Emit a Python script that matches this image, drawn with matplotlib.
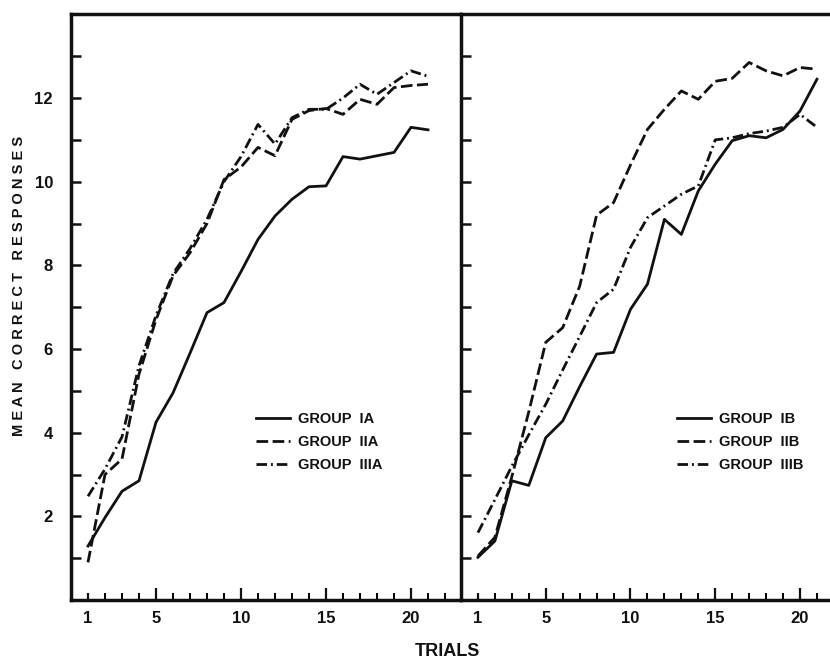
import matplotlib
matplotlib.use("Agg")
import matplotlib.pyplot as plt
from matplotlib.ticker import FixedLocator, NullFormatter

plt.rcParams['font.family'] = ['Liberation Sans', 'DejaVu Sans']
plt.rcParams['font.weight'] = 'bold'

trials = list(range(1, 22))

group_IA = [1.29, 1.97, 2.6, 2.85, 4.25, 4.95, 5.9, 6.87, 7.11, 7.85, 8.62,
            9.18, 9.58, 9.88, 9.9, 10.6, 10.54, 10.62, 10.7, 11.3, 11.24]
group_IIA = [0.9, 3.0, 3.37, 5.4, 6.7, 7.75, 8.3, 9.0, 10.05, 10.35, 10.82,
             10.62, 11.49, 11.7, 11.75, 11.61, 11.97, 11.85, 12.25, 12.3, 12.33]
group_IIIA = [2.48, 3.13, 3.9, 5.6, 6.8, 7.8, 8.4, 9.1, 10.0, 10.6, 11.37,
              10.9, 11.53, 11.73, 11.73, 12.0, 12.33, 12.09, 12.37, 12.65, 12.52]

group_IB = [1.02, 1.41, 2.85, 2.74, 3.88, 4.28, 5.1, 5.88, 5.92, 6.95, 7.55,
            9.1, 8.74, 9.78, 10.42, 10.98, 11.1, 11.05, 11.25, 11.69, 12.45]
group_IIB = [1.05, 1.5, 2.95, 4.5, 6.16, 6.51, 7.5, 9.2, 9.5, 10.4, 11.25,
             11.73, 12.17, 11.97, 12.4, 12.47, 12.85, 12.65, 12.53, 12.73, 12.69]
group_IIIB = [1.61, 2.4, 3.2, 3.95, 4.68, 5.5, 6.3, 7.11, 7.43, 8.43, 9.14,
              9.42, 9.7, 9.9, 11.0, 11.05, 11.15, 11.21, 11.3, 11.61, 11.3]

labels_A = ["GROUP  IA", "GROUP  IIA", "GROUP  IIIA"]
labels_B = ["GROUP  IB", "GROUP  IIB", "GROUP  IIIB"]

xtick_major = [1, 5, 10, 15, 20]
ytick_major = [2, 4, 6, 8, 10, 12]

W, H = 830, 663
fig = plt.figure(figsize=(W / 100, H / 100), dpi=100)

ink = '#111111'
lw = 2.0
styles = [dict(linestyle='-'),
          dict(linestyle=(0, (4.2, 1.6))),
          dict(linestyle=(0, (3.8, 1.4, 0.7, 1.4)))]

bottom_px = 600
unit_px = 41.83
ymax = 14
ax_h = ymax * unit_px / H
ax_b = 1 - bottom_px / H

axL = fig.add_axes([71 / W, ax_b, 389.3 / W, ax_h])
axR = fig.add_axes([461 / W, ax_b, 369 / W, ax_h])

for ax, series, labels, xmax in [
        (axL, [group_IA, group_IIA, group_IIIA], labels_A, 22.9),
        (axR, [group_IB, group_IIB, group_IIIB], labels_B, 21.77)]:
    for vals, st, lab in zip(series, styles, labels):
        ax.plot(trials, vals, color=ink, lw=lw, label=lab, **st)
    ax.set_xlim(0, xmax)
    ax.set_ylim(0, ymax)
    for s in ax.spines.values():
        s.set_linewidth(2.5)
        s.set_color(ink)
    ax.xaxis.set_major_locator(FixedLocator(xtick_major))
    ax.xaxis.set_minor_locator(FixedLocator([t for t in range(1, 23) if t not in xtick_major]))
    ax.yaxis.set_major_locator(FixedLocator(ytick_major))
    ax.yaxis.set_minor_locator(FixedLocator([1, 3, 5, 7, 9, 11, 13]))
    ax.tick_params(axis='x', which='major', direction='in', length=9, width=1.6,
                   labelsize=12, pad=8, colors=ink, top=False)
    ax.tick_params(axis='x', which='minor', direction='in', length=5, width=1.4,
                   top=False)
    ax.tick_params(axis='y', which='both', direction='in', length=7, width=1.8,
                   right=False, colors=ink)
    ax.tick_params(axis='y', which='major', labelsize=12, pad=13)
    for lbl in ax.get_xticklabels() + ax.get_yticklabels():
        lbl.set_fontweight('bold')
    ax.xaxis.get_major_ticks()[0].tick1line.set_markersize(5)

axL.spines['right'].set_visible(False)
axR.spines['right'].set_visible(False)
axR.yaxis.set_major_formatter(NullFormatter())

legkw = dict(frameon=False, fontsize=10.5, handlelength=2.3, handletextpad=0.55,
             labelspacing=0.62, borderpad=0, borderaxespad=0, loc='upper left')
top_frac = (bottom_px - 412) / (ymax * unit_px)
legL = axL.legend(bbox_to_anchor=((256 - 71) / 389.3, top_frac), **legkw)
legR = axR.legend(bbox_to_anchor=((677 - 461) / 369, top_frac), **legkw)
for leg in (legL, legR):
    for t in leg.get_texts():
        t.set_fontweight('bold')
        t.set_color(ink)

fig.text(19 / W, 1 - 286 / H, "M E A N   C O R R E C T   R E S P O N S E S",
         rotation=90, ha='center', va='center', fontsize=10.5, fontweight='bold', color=ink)
fig.text(447 / W, 1 - 652 / H, "TRIALS", ha='center', va='center',
         fontsize=13, fontweight='bold', color=ink)

fig.savefig("out.png", dpi=100)
